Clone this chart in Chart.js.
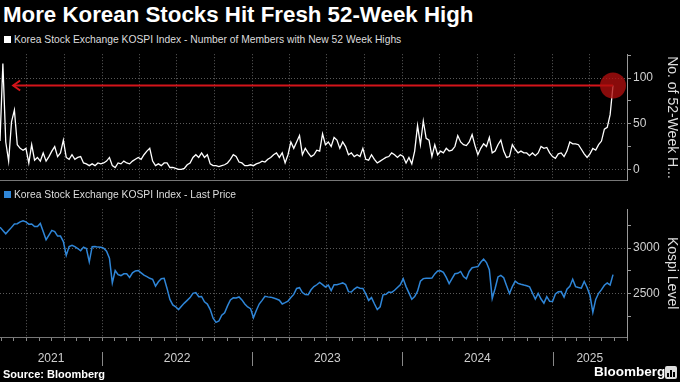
<!DOCTYPE html>
<html><head><meta charset="utf-8">
<script src="https://cdn.jsdelivr.net/npm/chart.js@4.4.1/dist/chart.umd.min.js"></script>
<style>
html,body{margin:0;padding:0;background:#000;width:680px;height:382px;overflow:hidden;font-family:"Liberation Sans",Arial,sans-serif;}
#title{position:absolute;left:3px;top:2px;color:#fff;font-weight:bold;font-size:22.3px;line-height:26px;white-space:nowrap;}
.legend{position:absolute;left:4px;color:#ddd;font-size:10.3px;line-height:14px;white-space:nowrap;}
.legend i{display:inline-block;width:7px;height:7px;margin-right:3px;}
#leg1{top:33px;} #leg2{top:188px;}
#c1{position:absolute;left:0;top:45px;}
#c2{position:absolute;left:0;top:200px;}
#src{position:absolute;left:3px;top:368px;color:#fff;font-weight:bold;font-size:11px;line-height:13px;}
#logo{position:absolute;left:594px;top:364px;color:#fff;font-weight:bold;font-size:13.5px;line-height:16px;}
#icon{position:absolute;left:665px;top:366px;width:12px;height:13px;background:#ddd;border-radius:2px;}
#icon b{position:absolute;bottom:2px;width:2px;background:#000;}
</style></head>
<body>
<div id="title">More Korean Stocks Hit Fresh 52-Week High</div>
<div class="legend" id="leg1"><i style="background:#fff"></i>Korea Stock Exchange KOSPI Index - Number of Members with New 52 Week Highs</div>
<canvas id="c1" width="680" height="145"></canvas>
<div class="legend" id="leg2"><i style="background:#2f86d8"></i>Korea Stock Exchange KOSPI Index - Last Price</div>
<canvas id="c2" width="680" height="182"></canvas>
<div id="src">Source: Bloomberg</div>
<div id="logo">Bloomberg</div>
<div id="icon"><b style="left:2px;height:4px"></b><b style="left:5px;height:7px"></b><b style="left:8px;height:5px"></b></div>
<script>
// ---- data (weekly observations starting 2021-04-28) ----
const firstDate = '2021-04-28';
const axisEnd = '2025-07-01';
const markStart = '2021-05-30';
const yearLabels = ['2021','2022','2023','2024','2025'];
const highs = [
31,116,30,9,52,65,27,23,21,23,
7,27,10,13,9,18,9,14,20,25,
14,18,32,13,11,16,11,13,14,7,
6,4,6,4,7,6,7,9,13,4,
2,7,6,9,7,6,9,11,13,11,
16,20,23,9,4,6,4,7,7,2,
2,1,0,0,1,5,7,13,16,13,
18,13,16,6,4,4,3,4,5,7,
11,16,14,8,7,4,4,5,4,6,
7,9,8,11,13,16,18,13,18,7,
16,30,23,30,37,16,23,18,14,16,
21,20,39,27,30,25,35,32,23,30,
25,16,18,14,16,14,23,11,10,16,
11,7,9,11,13,14,18,16,13,16,
14,7,13,6,20,48,27,53,34,32,
14,27,16,20,18,23,20,21,25,37,
30,27,26,30,38,26,16,23,28,25,
35,18,20,27,32,20,13,14,27,22,
18,20,18,18,15,18,15,18,25,23,
24,18,14,12,17,18,14,20,30,28,
28,27,22,17,13,17,23,21,27,31,
44,46,60,92];
const kospi = [
3227,3190,3155,3190,3225,3262,3265,3285,3297,3285,
3260,3262,3235,3235,3268,3180,3090,3140,3192,3180,
3130,3130,3070,2920,3017,3030,3015,2995,2970,3010,
2995,2850,3015,3017,3010,3008,2998,2965,2890,2620,
2755,2710,2700,2720,2720,2680,2730,2750,2755,2730,
2705,2688,2670,2660,2585,2632,2665,2670,2560,2440,
2380,2360,2330,2365,2400,2430,2460,2507,2515,2470,
2473,2415,2390,2330,2235,2190,2205,2268,2295,2370,
2435,2457,2455,2467,2435,2390,2358,2340,2240,2320,
2390,2430,2475,2468,2465,2455,2445,2432,2390,2405,
2422,2460,2495,2560,2568,2515,2495,2492,2545,2580,
2600,2625,2602,2576,2597,2537,2600,2600,2610,2620,
2603,2525,2522,2553,2575,2562,2560,2500,2430,2460,
2393,2330,2360,2490,2495,2520,2517,2540,2570,2600,
2665,2580,2512,2442,2472,2530,2638,2667,2670,2670,
2672,2718,2750,2752,2735,2680,2612,2668,2720,2725,
2745,2690,2665,2745,2785,2792,2798,2845,2880,2842,
2765,2450,2560,2685,2702,2677,2590,2505,2580,2640,
2615,2605,2597,2590,2578,2510,2445,2507,2445,2400,
2470,2420,2418,2500,2523,2526,2465,2552,2582,2660,
2580,2570,2563,2636,2570,2485,2300,2440,2507,2547,
2595,2619,2597,2710];
const highsTicks = [0,25,50,75,100,125];
const highsLabels = [0,50,100];
const kospiTicks = [2250,2500,2750,3000,3250];
const kospiLabels = [2500,3000];

// ---- helpers ----
function decUTC(t){const y=new Date(t).getUTCFullYear();const a=Date.UTC(y,0,1),b=Date.UTC(y+1,0,1);return y+(t-a)/(b-a);}
function dec(s){const p=s.split('-').map(Number);return decUTC(Date.UTC(p[0],p[1]-1,p[2]));}
const p0=firstDate.split('-').map(Number);
const t0=Date.UTC(p0[0],p0[1]-1,p0[2]);
const dates = highs.map((_,i)=>decUTC(t0+i*7*86400000));
const X_MIN = dates[0], X_MAX = dec(axisEnd);
const quarters=[], months=[];
for(let y=2021;y<=2025;y++){for(let m=0;m<12;m++){const v=decUTC(Date.UTC(y,m,1));if(v>=X_MIN-1e-9&&v<=X_MAX+1e-9){months.push(v);if(m%3===0)quarters.push(v);}}}
const isQ=v=>quarters.some(q=>Math.abs(q-v)<1e-6);
const FAM='"Liberation Sans", Arial, sans-serif';
const GRID='#5a5a5a';
const lastX = dates[dates.length-1], markLevel = highs[highs.length-1];

const arrowPlugin={id:'arrow',afterDatasetsDraw(chart){
  const {ctx,scales:{x,y}}=chart;const px=x.getPixelForValue(dec(markStart)),py=y.getPixelForValue(markLevel);
  ctx.save();ctx.strokeStyle='#d4141a';ctx.lineWidth=2;ctx.beginPath();
  ctx.moveTo(px+7,py-5);ctx.lineTo(px,py);ctx.lineTo(px+7,py+5);ctx.stroke();ctx.restore();}};

const yearPlugin={id:'years',afterDraw(chart){
  const {ctx,chartArea,scales:{x}}=chart;ctx.save();
  ctx.font='12px '+FAM;ctx.fillStyle='#cfcfcf';ctx.textAlign='center';ctx.textBaseline='middle';
  ctx.strokeStyle='#888';ctx.lineWidth=1;
  yearLabels.forEach(lab=>{const y0=dec(lab+'-01-01'),y1=dec((+lab+1)+'-01-01');
    const a=Math.max(y0,x.min),b=Math.min(y1,x.max);
    ctx.fillText(lab,(x.getPixelForValue(a)+x.getPixelForValue(b))/2,chartArea.bottom+22);
    if(y0>x.min){const px=Math.round(x.getPixelForValue(y0))+0.5;ctx.beginPath();ctx.moveTo(px,chartArea.bottom+15);ctx.lineTo(px,chartArea.bottom+29);ctx.stroke();}
  });ctx.restore();}};

function yAxis(min,max,tk,lb,title){return{position:'right',min,max,
  afterBuildTicks:s=>{s.ticks=tk.map(v=>({value:v}));},
  ticks:{color:'#d0d0d0',font:{size:12,family:FAM},padding:2,callback:v=>lb.includes(v)?String(v):''},
  grid:{color:c=>(c.tick&&lb.includes(c.tick.value))?GRID:'rgba(0,0,0,0)',tickColor:'#999',tickLength:4},
  border:{display:true,color:'#999',dash:[1,2]},
  title:{display:true,text:title,color:'#dedede',font:{size:14,family:FAM},padding:0},
  afterFit:s=>{s.width=53;}};}

new Chart(document.getElementById('c1'),{type:'line',
 data:{datasets:[
  {data:[{x:lastX,y:markLevel}],showLine:false,pointRadius:13,pointHoverRadius:13,pointBackgroundColor:'rgba(175,14,14,0.78)',pointBorderWidth:0,order:0,clip:false},
  {data:[{x:dec(markStart),y:markLevel},{x:lastX,y:markLevel}],borderColor:'#d4141a',borderWidth:2,pointRadius:0,order:1},
  {data:dates.map((d,i)=>({x:d,y:highs[i]})),borderColor:'#ffffff',borderWidth:1.3,pointRadius:0,tension:0,order:2}
 ]},
 options:{responsive:false,animation:false,devicePixelRatio:1,
  layout:{autoPadding:false,padding:{top:5,left:0,right:0,bottom:0}},
  plugins:{legend:{display:false},tooltip:{enabled:false}},
  scales:{
   x:{type:'linear',min:X_MIN,max:X_MAX,afterBuildTicks:s=>{s.ticks=quarters.map(v=>({value:v}));},
      ticks:{display:false},grid:{color:GRID,drawTicks:false},border:{display:true,color:'#777',dash:[1,2]},afterFit:s=>{s.height=8;}},
   y:yAxis(-12.6,126.3,highsTicks,highsLabels,'No. of 52-Week H...')
  }},
 plugins:[arrowPlugin]});

new Chart(document.getElementById('c2'),{type:'line',
 data:{datasets:[
  {data:dates.map((d,i)=>({x:d,y:kospi[i]})),borderColor:'#2f86d8',borderWidth:1.5,pointRadius:0,tension:0}
 ]},
 options:{responsive:false,animation:false,devicePixelRatio:1,
  layout:{autoPadding:false,padding:{top:5,left:0,right:0,bottom:0}},
  plugins:{legend:{display:false},tooltip:{enabled:false}},
  scales:{
   x:{type:'linear',min:X_MIN,max:X_MAX,afterBuildTicks:s=>{s.ticks=months.map(v=>({value:v}));},
      ticks:{display:false},grid:{color:c=>(c.tick&&isQ(c.tick.value))?GRID:'rgba(0,0,0,0)',tickColor:'#888',tickLength:4},
      border:{display:true,color:'#777',dash:[1,2]},afterFit:s=>{s.height=45;}},
   y:yAxis(2031,3423,kospiTicks,kospiLabels,'Kospi Level')
  }},
 plugins:[yearPlugin]});
</script>
</body></html>
